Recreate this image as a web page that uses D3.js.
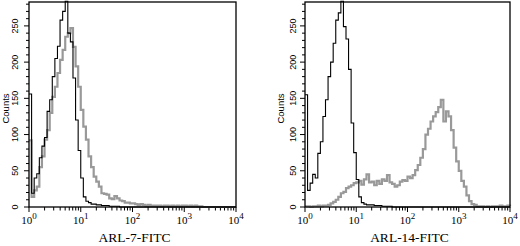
<!DOCTYPE html>
<html>
<head>
<meta charset="utf-8">
<script src="https://cdn.jsdelivr.net/npm/d3@7"></script>
<style>
  body { margin: 0; background: #fff; }
  svg { display: block; }
</style>
</head>
<body>
<div id="chart"></div>
<script>
// histogram counts, one value per 0.05-decade channel from 10^0 to 10^4
const channelStep = 0.05;

const arl7Control = [156, 19, 40, 46, 68, 84, 96, 132, 148, 180, 205, 222, 258, 270, 284, 240, 228, 178, 120, 78,
  40, 14, 8, 6, 4, 4, 3, 3, 2, 2, 2, 1, 1, 1, 1, 0, 0, 0, 0, 0,
  0, 0, 0, 0, 0, 0, 0, 0, 0, 0, 0, 0, 0, 0, 0, 0, 0, 0, 0, 0,
  0, 0, 0, 0, 0, 0, 0, 0, 0, 0, 0, 0, 0, 0, 0, 0, 0, 0, 0, 0, 0];

const arl7Stained = [92, 14, 23, 28, 55, 70, 93, 106, 130, 152, 166, 185, 203, 217, 235, 240, 247, 221, 194, 166,
  134, 111, 93, 70, 55, 42, 35, 28, 19, 18, 17, 12, 11, 15, 12, 9, 8, 6, 6, 5,
  5, 4, 3, 4, 3, 2, 3, 2, 2, 2, 2, 1, 2, 2, 1, 2, 1, 2, 1, 2,
  2, 1, 2, 1, 2, 1, 1, 0, 0, 0, 0, 0, 0, 0, 0, 0, 0, 0, 0, 0, 0];

const arl14Control = [155, 23, 33, 45, 40, 74, 90, 125, 148, 180, 200, 226, 258, 268, 284, 249, 232, 190, 116, 75,
  38, 14, 6, 4, 3, 3, 3, 2, 2, 2, 1, 1, 1, 1, 0, 0, 0, 0, 0, 0,
  0, 0, 0, 0, 0, 0, 0, 0, 0, 0, 0, 0, 0, 0, 0, 0, 0, 0, 0, 0,
  0, 0, 0, 0, 0, 0, 0, 0, 0, 0, 0, 0, 0, 0, 0, 0, 0, 0, 0, 0, 0];

const arl14Stained = [1, 1, 0, 1, 1, 2, 1, 2, 2, 3, 5, 7, 10, 14, 19, 21, 26, 28, 30, 33,
  34, 36, 31, 38, 45, 34, 35, 30, 36, 32, 38, 36, 44, 34, 32, 28, 30, 35, 37, 36,
  42, 40, 44, 51, 58, 68, 80, 100, 108, 118, 125, 131, 138, 148, 118, 132, 125, 106, 82, 63,
  50, 36, 28, 16, 8, 4, 3, 1, 1, 1, 0, 1, 0, 1, 1, 1, 2, 1, 1, 2, 1];

const countTicks = [0, 50, 100, 150, 200, 250];
const decadeTicks = [0, 1, 2, 3, 4];
const panelTitles = ["ARL-7-FITC", "ARL-14-FITC"];

const width = 520, height = 246;
const svg = d3.select("#chart").append("svg")
  .attr("width", width)
  .attr("height", height);

const panels = [
  { left: 29, right: 236, labelX: 17.5, countsX: 8.5, control: arl7Control, stained: arl7Stained, title: panelTitles[0] },
  { left: 305, right: 510, labelX: 296, countsX: 284, control: arl14Control, stained: arl14Stained, title: panelTitles[1] }
];

const plotTop = 2, plotBottom = 207;

panels.forEach(p => drawPanel(p));

function drawPanel(p) {
  const x = d3.scaleLog().domain([1, 1e4]).range([p.left, p.right]);
  const y = d3.scaleLinear().domain([0, 283]).range([plotBottom, plotTop]);
  const g = svg.append("g");

  // log minor + major ticks on x
  const xTicks = [];
  for (let d = 0; d < 4; d++) {
    for (let m = 1; m < 10; m++) xTicks.push({ v: m * Math.pow(10, d), major: m === 1 });
  }
  xTicks.push({ v: 1e4, major: true });
  g.selectAll(".xt").data(xTicks).enter().append("line")
    .attr("x1", d => x(d.v)).attr("x2", d => x(d.v))
    .attr("y1", plotBottom).attr("y2", d => plotBottom + (d.major ? 5 : 3.5))
    .attr("stroke", "#000").attr("stroke-width", 1);

  // y ticks every 10 counts
  g.selectAll(".yt").data(d3.range(0, 281, 10)).enter().append("line")
    .attr("x1", p.left).attr("x2", d => p.left - (d % 50 === 0 ? 5 : 3))
    .attr("y1", d => y(d)).attr("y2", d => y(d))
    .attr("stroke", "#000").attr("stroke-width", 1);

  // y tick labels (rotated)
  g.selectAll(".yl").data(countTicks).enter().append("text")
    .attr("transform", d => `translate(${p.labelX},${y(d)}) rotate(-90)`)
    .attr("text-anchor", "middle")
    .attr("font-family", "Liberation Sans, Arial, sans-serif")
    .attr("font-size", 9)
    .text(d => d);

  g.append("text")
    .attr("transform", `translate(${p.countsX},${(plotTop + plotBottom) / 2 + 4}) rotate(-90)`)
    .attr("text-anchor", "middle")
    .attr("font-family", "Liberation Sans, Arial, sans-serif")
    .attr("font-size", 9.5)
    .text("Counts");

  // x tick labels 10^n
  const xl = g.selectAll(".xl").data(decadeTicks).enter().append("text")
    .attr("x", d => x(Math.pow(10, d)))
    .attr("y", 224)
    .attr("text-anchor", "middle")
    .attr("font-family", "Liberation Serif, Times New Roman, serif")
    .attr("font-size", 11);
  xl.append("tspan").text("10");
  xl.append("tspan").attr("dy", -5).attr("font-size", 9).text(d => d);

  g.append("text")
    .attr("x", (p.left + p.right) / 2 + 2)
    .attr("y", 242)
    .attr("text-anchor", "middle")
    .attr("font-family", "Liberation Serif, Times New Roman, serif")
    .attr("font-size", 13.5)
    .text(p.title);

  const line = d3.line()
    .x((d, i) => x(Math.pow(10, i * channelStep)))
    .y(d => y(d))
    .curve(d3.curveStepAfter);

  g.append("path").datum(p.stained)
    .attr("d", line)
    .attr("fill", "none")
    .attr("stroke", "#999")
    .attr("stroke-width", 2.2);

  g.append("path").datum(p.control)
    .attr("d", line)
    .attr("fill", "none")
    .attr("stroke", "#000")
    .attr("stroke-width", 1.1);

  // frame
  g.append("rect")
    .attr("x", p.left).attr("y", plotTop)
    .attr("width", p.right - p.left).attr("height", plotBottom - plotTop)
    .attr("fill", "none")
    .attr("stroke", "#000")
    .attr("stroke-width", 1.3);
}
</script>
</body>
</html>
